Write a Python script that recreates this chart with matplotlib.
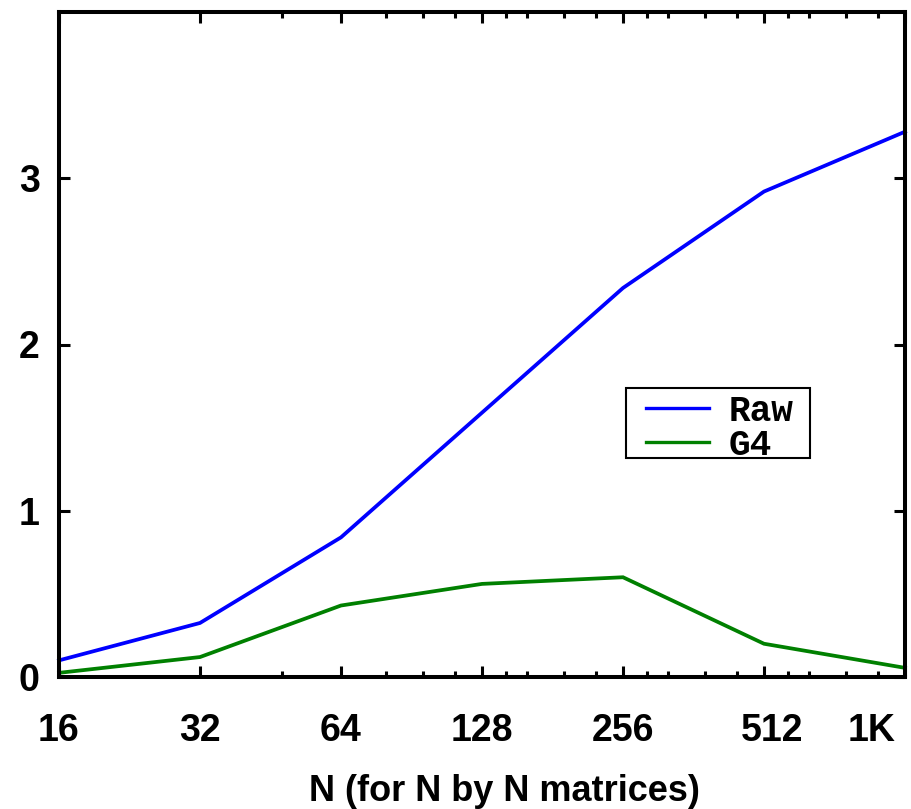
import matplotlib
matplotlib.use("Agg")
import matplotlib.pyplot as plt
from matplotlib.patches import Rectangle
from matplotlib.ticker import FixedLocator, NullFormatter
from matplotlib.transforms import ScaledTranslation

# Matrix sizes (N for N-by-N matrices)
sizes = [16, 32, 64, 128, 256, 512, 1024]
size_labels = ["16", "32", "64", "128", "256", "512", "1K"]
minor_sizes = [48, 80, 96, 112, 144, 160, 192, 224, 288, 320, 384, 448,
               576, 640, 768, 896]

# Series values
raw = [0.10, 0.325, 0.84, 1.59, 2.34, 2.92, 3.28]
g4 = [0.025, 0.12, 0.43, 0.56, 0.60, 0.20, 0.055]

y_ticks = [0, 1, 2, 3]
series_names = ["Raw", "G4"]

W, H = 911, 809
AX_L, AX_R, AX_T, AX_B = 59, 905, 12, 677
fig = plt.figure(figsize=(W / 100, H / 100), dpi=100)
ax = fig.add_axes([AX_L / W, (H - AX_B) / H, (AX_R - AX_L) / W, (AX_B - AX_T) / H])


def px_to_axes(x, y):
    return (x - AX_L) / (AX_R - AX_L), (AX_B - y) / (AX_B - AX_T)


ax.plot(sizes, raw, color="#0000ff", lw=2.7, label=series_names[0],
        solid_joinstyle="miter", clip_on=False)
ax.plot(sizes, g4, color="#008000", lw=2.7, label=series_names[1],
        solid_joinstyle="miter", clip_on=False)

ax.set_xscale("log", base=2)
ax.set_xlim(16, 1024)
ax.set_ylim(0, 4)

ax.xaxis.set_major_locator(FixedLocator(sizes))
ax.set_xticklabels(size_labels)
ax.xaxis.set_minor_locator(FixedLocator(minor_sizes))
ax.xaxis.set_minor_formatter(NullFormatter())
ax.set_yticks(y_ticks)
ax.set_yticklabels([str(v) for v in y_ticks])
ax.yaxis.set_minor_locator(FixedLocator([]))

for s in ax.spines.values():
    s.set_linewidth(2.9)

ax.tick_params(axis="both", which="major", direction="in", length=8,
               width=2.2, top=True, right=True, labelsize=27)
ax.tick_params(axis="both", which="minor", direction="in", length=4,
               width=2.2, top=True, right=True)
ax.tick_params(axis="x", which="major", pad=26)
ax.tick_params(axis="y", which="major", pad=14)
for lab in ax.get_xticklabels() + ax.get_yticklabels():
    lab.set_fontfamily("Liberation Sans")
    lab.set_fontweight("bold")

# nudge the two rightmost size labels
xl = ax.get_xticklabels()
xl[5].set_transform(xl[5].get_transform() + ScaledTranslation(8 / 100, 0, fig.dpi_scale_trans))
xl[6].set_transform(xl[6].get_transform() + ScaledTranslation(-33 / 100, 0, fig.dpi_scale_trans))

ax.set_xlabel("N (for N by N matrices)", family="Liberation Sans",
              weight="bold", size=26)
ax.xaxis.set_label_coords(*px_to_axes(504, 774))

# legend entries, framed by a plain box
leg_fs = 26
leg = ax.legend(loc="upper left", bbox_to_anchor=px_to_axes(646, 394),
                borderaxespad=0, borderpad=0, frameon=False,
                handlelength=1.75, handletextpad=0.55, labelspacing=-0.04,
                prop=dict(family="Liberation Mono", weight="bold", size=leg_fs))
for h in leg.get_lines():
    h.set_linewidth(2.4)
x0, y0 = px_to_axes(626, 458)
x1, y1 = px_to_axes(810, 388)
ax.add_patch(Rectangle((x0, y0), x1 - x0, y1 - y0, transform=ax.transAxes,
                       fill=False, edgecolor="black", lw=1.5, zorder=5))

fig.savefig("out.png", dpi=100)
